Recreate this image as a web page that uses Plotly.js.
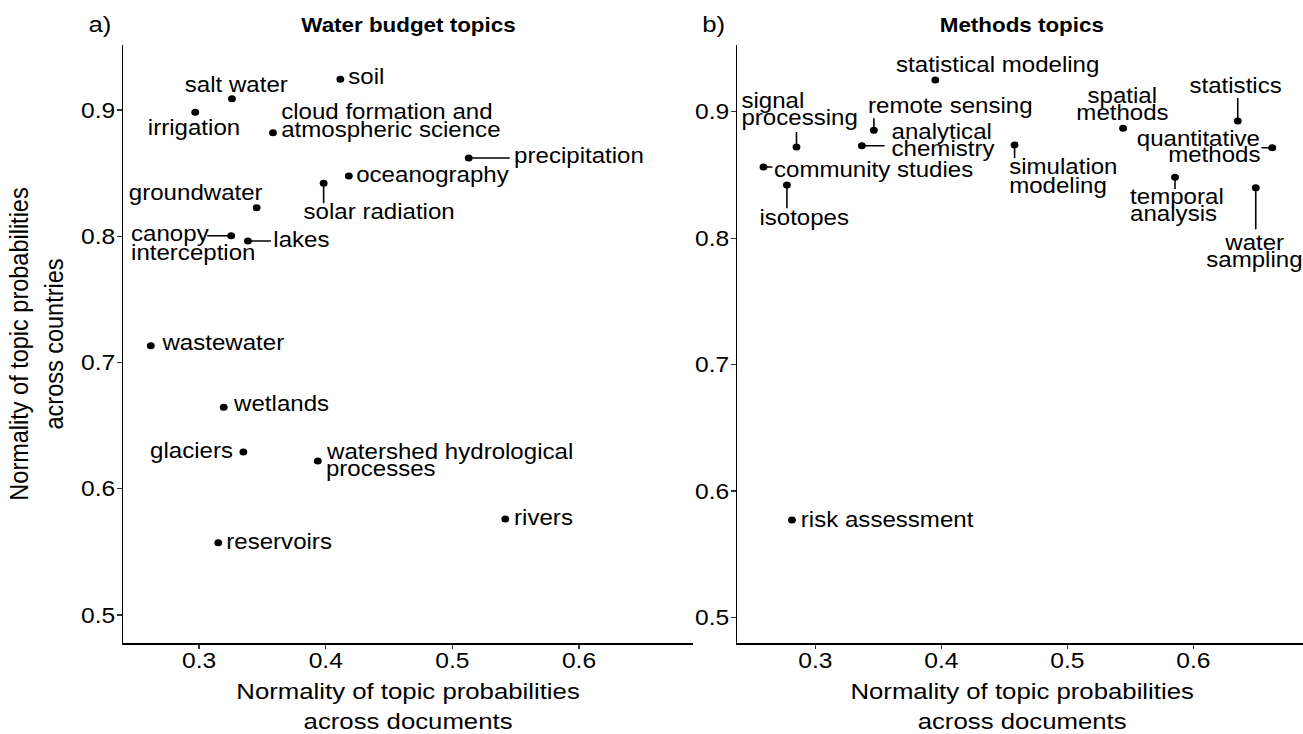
<!DOCTYPE html>
<html><head><meta charset="utf-8">
<script src="https://cdn.plot.ly/plotly-3.0.1.min.js"></script>
<style>
html,body{margin:0;padding:0;overflow:hidden;background:#fff;width:1303px;height:734px;}
#chart{width:1168px;height:734px;transform:scaleX(1.12);transform-origin:0 0;}
</style></head><body><div id="chart"></div>
<script>
// ---- data ----
const wbLabels = ["soil","salt water","irrigation","cloud formation and<br>atmospheric science","precipitation",
  "oceanography","solar radiation","groundwater","canopy<br>interception","lakes","wastewater","wetlands",
  "glaciers","watershed hydrological<br>processes","rivers","reservoirs"];
const wbX = [0.4115,0.3259,0.2969,0.3583,0.5129,0.4182,0.3983,0.3454,0.3253,0.3385,0.2618,0.3194,0.3349,0.3937,0.5418,0.3151];
const wbY = [0.9243,0.9090,0.8982,0.8820,0.8620,0.8477,0.8420,0.8226,0.8004,0.7962,0.7133,0.6645,0.6291,0.6220,0.5760,0.5573];

const mtLabels = ["statistical modeling","signal<br>processing","remote sensing","analytical<br>chemistry",
  "community studies","isotopes","simulation<br>modeling","spatial<br>methods","statistics",
  "quantitative<br>methods","temporal<br>analysis","water<br>sampling","risk assessment"];
const mtX = [0.3952,0.2850,0.3464,0.3369,0.2588,0.2774,0.4581,0.5442,0.6352,0.6626,0.5854,0.6495,0.2814];
const mtY = [0.9251,0.8721,0.8853,0.8731,0.8563,0.8420,0.8737,0.8869,0.8926,0.8715,0.8481,0.8399,0.5771];

const xTicks = [0.3,0.4,0.5,0.6];
const yTicks = [0.5,0.6,0.7,0.8,0.9];
const panelTitles = ["Water budget topics","Methods topics"];
const panelTags = ["a)","b)"];
const xTitle = "Normality of topic probabilities<br>across documents";
const yTitle = "Normality of topic probabilities<br>across countries";

// ---- label placement (pixels, relative to the point): anchor, dx, baselines, segment end ----
const wbPlace = [
  ["l",6.3,[5]],["c",4.8,[-6.4]],["c",-1.4,[23.4]],["l",6.7,[-13.4,4.6]],["l",43.7,[6],[41,0]],
  ["l",6.2,[6.7]],["c",55,[36.7],[0,20]],["c",-60.5,[-6.7]],["l",-101.7,[6,24.3],[-24,0]],["l",24,[6.3],[23,0]],
  ["l",8.9,[5.3]],["l",8.2,[4.5]],["r",-9.6,[6.3]],["l",6.6,[-1.7,15.7]],["l",7.1,[6]],["l",6.3,[6.5]]
];
const mtPlace = [
  ["c",63.1,[-7.7]],["l",-55.7,[-38.7,-21],[0,-15]],["l",-7.3,[-16.3],[0,-12]],["l",28.9,[-6.4,11],[22.7,0]],
  ["l",9.6,[10.3],[9,0]],["c",17,[40],[0,23.3]],["l",-6.9,[30,49],[0,13.3]],["c",-0.4,[-25,-7.3]],
  ["c",-2.7,[-27.7],[0,-23]],["r",-10.8,[-1.7,15],[-10.8,0]],["l",-46.2,[26.7,44.4],[0,11.7]],
  ["c",-1,[63.3,80],[0,41.6]],["l",7.3,[7.3]]
];

const S = 1.12, FS = 21.5, K = 0.35;
const FONT = "Liberation Sans, Arial, Helvetica, sans-serif";
const anchorMap = {l:"left",c:"center",r:"right"};
const annotations = [], shapes = [];

function addLabels(labels, xs, ys, place, xref, yref){
  labels.forEach((lab,i)=>{
    const p = place[i];
    const lines = lab.split("<br>");
    lines.forEach((ln,j)=>{
      annotations.push({x:xs[i],y:ys[i],xref:xref,yref:yref,text:ln,showarrow:false,
        xanchor:anchorMap[p[0]],yanchor:"middle",xshift:p[1]/S,yshift:K*FS-p[2][j],borderpad:0,
        font:{family:FONT,size:FS,color:"#000"}});
    });
    if(p[3]){
      shapes.push({type:"line",xref:xref,yref:yref,xsizemode:"pixel",ysizemode:"pixel",
        xanchor:xs[i],yanchor:ys[i],x0:0,y0:0,x1:p[3][0]/S,y1:-p[3][1],
        line:{color:"#000",width:1.4},layer:"below"});
    }
  });
}
addLabels(wbLabels,wbX,wbY,wbPlace,"x","y");
addLabels(mtLabels,mtX,mtY,mtPlace,"x2","y2");

["x","x2"].forEach((ax,k)=>{
  annotations.push({xref:ax+" domain",yref:"paper",x:0.5,y:1,xanchor:"center",yanchor:"middle",yshift:19.7,
    showarrow:false,text:panelTitles[k],font:{family:FONT,size:20,color:"#000",weight:"bold"}});
  annotations.push({xref:ax+" domain",yref:"paper",x:0,y:1,xanchor:"center",yanchor:"middle",
    xshift:-21,yshift:21.3,showarrow:false,text:panelTags[k],font:{family:FONT,size:23,color:"#000"}});
});

function xa(domain,range){
  return {domain:domain,range:range,tickvals:xTicks,ticktext:xTicks.map(v=>v.toFixed(1)),
    ticks:"outside",ticklen:4.5,tickwidth:1.2,tickcolor:"#333",showline:true,linecolor:"#000",linewidth:1.5,
    showgrid:false,zeroline:false,tickfont:{family:FONT,size:22,color:"#000"},ticklabelstandoff:-7,
    title:{text:xTitle,font:{family:FONT,size:23,color:"#000"},standoff:22},fixedrange:true};
}
function ya(range,title){
  return {domain:[0,1],range:range,tickvals:yTicks,ticktext:yTicks.map(v=>v.toFixed(1)),
    ticks:"outside",ticklen:4.2,tickwidth:1.2,tickcolor:"#333",showline:true,linecolor:"#000",linewidth:1.5,
    showgrid:false,zeroline:false,tickfont:{family:FONT,size:22,color:"#000"},ticklabelstandoff:-3,
    title:title?{text:yTitle,font:{family:FONT,size:23.5,color:"#000"},standoff:9}:{text:""},fixedrange:true};
}

const layout = {
  width:1168,height:734,margin:{l:110.09,r:1.04,t:45,b:91},
  paper_bgcolor:"#fff",plot_bgcolor:"#fff",showlegend:false,
  font:{family:FONT,color:"#000"},
  xaxis:Object.assign(xa([0,0.48129],[0.2400,0.6900]),{anchor:"y"}),
  yaxis:Object.assign(ya([0.4778,0.9515],true),{anchor:"x"}),
  xaxis2:Object.assign(xa([0.51871,1],[0.2380,0.6902]),{anchor:"y2"}),
  yaxis2:Object.assign(ya([0.4797,0.9528],false),{anchor:"x2"}),
  annotations:annotations,shapes:shapes
};

const traces = [
  {type:"scatter",mode:"markers",x:wbX,y:wbY,xaxis:"x",yaxis:"y",text:wbLabels.map(s=>s.replace("<br>"," ")),
   hoverinfo:"text+x+y",marker:{size:7,color:"#000"},cliponaxis:false},
  {type:"scatter",mode:"markers",x:mtX,y:mtY,xaxis:"x2",yaxis:"y2",text:mtLabels.map(s=>s.replace("<br>"," ")),
   hoverinfo:"text+x+y",marker:{size:7,color:"#000"},cliponaxis:false}
];
Plotly.newPlot("chart",traces,layout,{displayModeBar:false,staticPlot:true});
</script></body></html>
